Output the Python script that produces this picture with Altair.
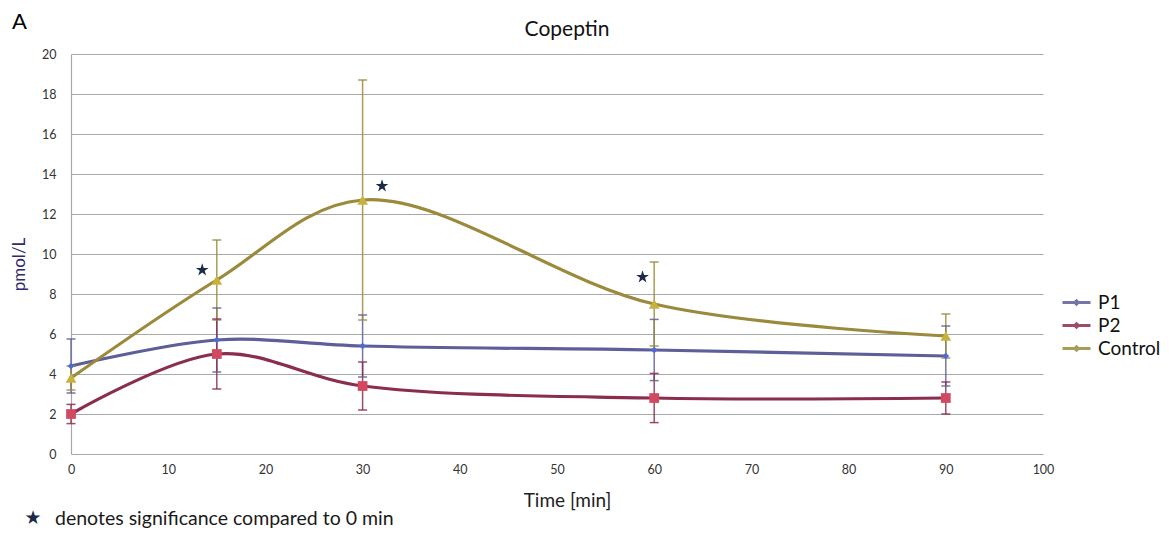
import altair as alt
import pandas as pd

# ---- data ----
times = [0, 15, 30, 60, 90]
series_names = ["P1", "P2", "Control"]
p1_mean = [4.4, 5.7, 5.4, 5.2, 4.9]
p1_err = [1.35, 1.6, 1.55, 1.53, 1.5]
p2_mean = [2.0, 5.0, 3.4, 2.8, 2.8]
p2_err = [0.48, 1.75, 1.2, 1.23, 0.8]
ctrl_mean = [3.8, 8.7, 12.7, 7.5, 5.9]
ctrl_err = [0.6, 2.0, 6.0, 2.1, 1.1]
star_time = [13.5, 32.0, 58.8]
star_value = [9.2, 13.4, 8.85]
x_ticks = list(range(0, 101, 10))
y_ticks = list(range(0, 21, 2))

line_colors = ["#5E5E98", "#8A2D50", "#9B8A3B"]
marker_colors = ["#4A6CD4", "#D2485E", "#C8B23E"]
marker_shapes = ["diamond", "square", "triangle-up"]
marker_sizes = [45, 95, 115]

FONT = "Lato"

rows = []
for name, means, errs in zip(series_names, [p1_mean, p2_mean, ctrl_mean],
                             [p1_err, p2_err, ctrl_err]):
    for t, m, e in zip(times, means, errs):
        rows.append({"time": t, "value": m, "lo": m - e, "hi": m + e, "series": name})
df = pd.DataFrame(rows)
stars = pd.DataFrame({"time": star_time, "value": star_value})

star_path = ("M0,-1L0.2245,-0.309L0.951,-0.309L0.363,0.118L0.588,0.809L0,0.382"
             "L-0.588,0.809L-0.363,0.118L-0.951,-0.309L-0.2245,-0.309Z")

xscale = alt.Scale(domain=[0, 100], nice=False, zero=False)
yscale = alt.Scale(domain=[0, 20], nice=False)

x_axis = alt.Axis(values=x_ticks, title="Time [min]", grid=False, ticks=False,
                  domain=False, labelPadding=9, labelFontSize=12.5, labelFlush=False,
                  labelColor="#333333", labelFont=FONT,
                  titleFont=FONT, titleFontSize=19, titleFontWeight="normal",
                  titleColor="#222222", titleX=496, titleY=46,
                  titleAlign="center", titleBaseline="middle")
y_axis = alt.Axis(values=y_ticks, title="pmol/L", grid=True, gridColor="#A8A8A8",
                  gridWidth=1.2, ticks=False, domain=True, domainColor="#A8A8A8",
                  domainWidth=1.2, labelPadding=15, labelFontSize=12.5, labelOverlap=False,
                  labelFlush=False, labelColor="#333333", labelFont=FONT,
                  titleFont=FONT, titleFontSize=17, titleFontWeight="normal",
                  titleColor="#2E2A6E", titleX=-52, titleY=210, titleAngle=-90,
                  titleAlign="center", titleBaseline="middle")

legend_symbol = "M-2.8,0L2.8,0M0,-0.35L0.35,0L0,0.35L-0.35,0Z"
legend = alt.Legend(title=None, orient="none", legendX=996, legendY=239,
                    symbolType=legend_symbol, symbolSize=100, symbolStrokeWidth=3,
                    labelFont=FONT, labelFontSize=19, labelColor="#111111",
                    rowPadding=3, labelOffset=12)
color_enc = alt.Color("series:N", scale=alt.Scale(domain=series_names, range=line_colors),
                      sort=series_names, legend=legend)

base = alt.Chart(df)
X = alt.X("time:Q", scale=xscale, axis=x_axis)

lines = base.mark_line(interpolate="catmull-rom", strokeWidth=3.2).encode(
    x=X, y=alt.Y("value:Q", scale=yscale, axis=y_axis),
    color=color_enc, detail="series:N")

err_rules = base.mark_rule(strokeWidth=1.5, opacity=0.85).encode(
    x=X, y=alt.Y("lo:Q", scale=yscale, axis=y_axis), y2="hi:Q", color=color_enc)
err_caps_lo = base.mark_tick(orient="horizontal", size=9, thickness=1.5, opacity=0.85).encode(
    x=X, y=alt.Y("lo:Q", scale=yscale, axis=y_axis), color=color_enc)
err_caps_hi = base.mark_tick(orient="horizontal", size=9, thickness=1.5, opacity=0.85).encode(
    x=X, y=alt.Y("hi:Q", scale=yscale, axis=y_axis), color=color_enc)

marker_layers = []
for name, mc, shp, sz in zip(series_names, marker_colors, marker_shapes, marker_sizes):
    marker_layers.append(
        base.transform_filter(alt.datum.series == name).mark_point(
            filled=True, opacity=1, shape=shp, size=sz, color=mc).encode(
            x=X, y=alt.Y("value:Q", scale=yscale, axis=y_axis)))

star_marks = alt.Chart(stars).mark_point(shape=star_path, filled=True, size=180,
                                         color="#1B2A48", opacity=1).encode(
    x=X, y=alt.Y("value:Q", scale=yscale, axis=y_axis))

title_txt = alt.Chart(pd.DataFrame({"t": ["Copeptin"]})).mark_text(
    font=FONT, fontSize=21, color="#111111", align="center", baseline="middle").encode(
    text="t:N", x=alt.value(496), y=alt.value(-24))

panel_txt = alt.Chart(pd.DataFrame({"t": ["A"]})).mark_text(
    font=FONT, fontSize=22, color="#000000", align="left", baseline="middle").encode(
    text="t:N", x=alt.value(-59), y=alt.value(-32))

foot_star = alt.Chart(pd.DataFrame({"t": ["★"]})).mark_text(
    font="DejaVu Sans", fontSize=19, color="#1B2A48", align="center", baseline="middle").encode(
    text="t:N", x=alt.value(-38), y=alt.value(464))

foot_txt = alt.Chart(pd.DataFrame({"t": ["denotes significance compared to 0 min"]})).mark_text(
    font=FONT, fontSize=19.5, color="#1A1A1A", align="left", baseline="middle").encode(
    text="t:N", x=alt.value(-16), y=alt.value(465))

chart = alt.layer(lines, err_rules, err_caps_lo, err_caps_hi, *marker_layers, star_marks,
                  title_txt, panel_txt, foot_star, foot_txt).resolve_scale(
    color="shared").properties(
    width=972, height=400,
    autosize=alt.AutoSizeParams(type="none"),
    padding={"left": 63, "top": 46, "right": 118, "bottom": 79},
    background="white",
).configure_view(stroke=None)

chart.save("out.html", embed_options={"renderer": "svg", "actions": False})
